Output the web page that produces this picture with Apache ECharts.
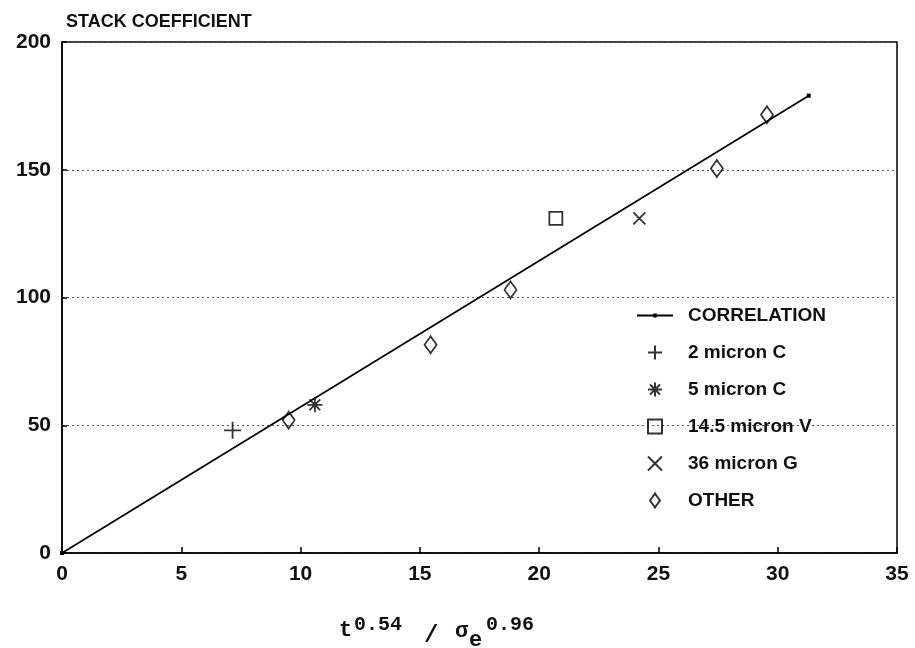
<!DOCTYPE html>
<html>
<head>
<meta charset="utf-8">
<script src="https://cdn.jsdelivr.net/npm/echarts@6/dist/echarts.min.js"></script>
<style>html,body{margin:0;padding:0;background:#fff}#c{width:915px;height:648px}</style>
</head>
<body>
<div id="c"></div>
<script>
var xTicks = [0, 5, 10, 15, 20, 25, 30, 35];
var yTicks = [0, 50, 100, 150, 200];
var correlation = [[0, 0], [31.3, 179]];
var micron2C = [[7.15, 48]];
var micron5C = [[10.6, 58]];
var micron14V = [[20.7, 131]];
var micron36G = [[24.2, 131]];
var other = [[9.5, 52], [15.45, 81.5], [18.8, 103], [27.45, 150.5], [29.55, 171.5]];
var seriesNames = ['CORRELATION', '2 micron C', '5 micron C', '14.5 micron V', '36 micron G', 'OTHER'];

var SYM_PLUS = 'path://M0,8L16,8M8,0L8,16';
var SYM_STAR = 'path://M7,0L7,14M0,7L14,7M2,2L12,12M12,2L2,12';
var SYM_SQ = 'path://M0,0L12,0L12,12L0,12Z';
var SYM_X = 'path://M0,0L12,12M12,0L0,12';
var SYM_DIA = 'path://M6,0C7.5,2.5 10.5,6 12,8.5C10.5,11 7.5,14.5 6,17C4.5,14.5 1.5,11 0,8.5C1.5,6 4.5,2.5 6,0Z';
var ICON_CORR = 'path://M0,6.1L36,6.1L36,7.9L0,7.9Z M16.3,5L19.7,5L19.7,9L16.3,9Z';

var chart = echarts.init(document.getElementById('c'), null, {renderer: 'canvas'});
var font = 'Liberation Sans, Arial, sans-serif';
var mono = 'Liberation Mono, DejaVu Sans Mono, monospace';
function sc(name, data, sym, size) {
  return {
    name: name, type: 'scatter', data: data, symbol: sym, symbolSize: size,
    itemStyle: {color: 'rgba(0,0,0,0)', borderColor: '#000', borderWidth: 1.8},
    z: 5
  };
}
function lbl(txt, x, y, size) {
  return {
    type: 'text', x: x, y: y,
    style: {text: txt, fontFamily: mono, fontSize: size, fontWeight: 'bold', fill: '#111',
      verticalAlign: 'middle', align: 'left'}
  };
}
var legendData = seriesNames.map(function (n, i) {
  return i === 0 ? {name: n, icon: ICON_CORR, itemStyle: {color: '#000'}} : {name: n};
});
chart.setOption({
  animation: false,
  backgroundColor: '#fff',
  grid: {left: 62, right: 18, top: 42, bottom: 95, show: true, borderColor: '#000', borderWidth: 1.5},
  title: {
    text: 'STACK COEFFICIENT', left: 61, top: 8,
    textStyle: {fontFamily: font, fontSize: 18, fontWeight: 'bold', color: '#111'}
  },
  legend: {
    orient: 'vertical', left: 632, top: 301,
    itemWidth: 36, itemHeight: 14, itemGap: 18,
    data: legendData,
    textStyle: {fontFamily: font, fontSize: 19, fontWeight: 'bold', color: '#111', padding: [0, 0, 0, 10]}
  },
  xAxis: {
    type: 'value', min: 0, max: 35, interval: 5,
    axisLine: {show: true, lineStyle: {color: '#000', width: 1.5}},
    axisTick: {show: true, inside: true, length: 6, lineStyle: {color: '#000', width: 1.5}},
    axisLabel: {fontFamily: font, fontSize: 21, fontWeight: 'bold', color: '#111', margin: 11,
      formatter: function (v) { return xTicks.indexOf(v) >= 0 ? String(v) : ''; }},
    splitLine: {show: false}
  },
  yAxis: {
    type: 'value', min: 0, max: 200, interval: 50,
    axisLine: {show: true, lineStyle: {color: '#000', width: 1.5}},
    axisTick: {show: true, inside: true, length: 5, lineStyle: {color: '#000', width: 1.5}},
    axisLabel: {fontFamily: font, fontSize: 21, fontWeight: 'bold', color: '#111', margin: 11,
      formatter: function (v) { return yTicks.indexOf(v) >= 0 ? String(v) : ''; }},
    splitLine: {show: true, lineStyle: {color: '#555', type: [2, 3], width: 1}}
  },
  graphic: [
    lbl('t', 339, 630, 22),
    lbl('0.54', 354, 625, 20),
    lbl('/', 424, 636, 24),
    lbl('σ', 455, 631, 22),
    lbl('e', 469, 640, 22),
    lbl('0.96', 486, 625, 20)
  ],
  series: [
    {
      name: 'CORRELATION', type: 'line', data: correlation,
      symbol: 'rect', symbolSize: 4, showSymbol: true,
      lineStyle: {color: '#000', width: 1.7},
      itemStyle: {color: '#000'}, z: 4
    },
    sc('2 micron C', micron2C, SYM_PLUS, 17),
    sc('5 micron C', micron5C, SYM_STAR, 15),
    sc('14.5 micron V', micron14V, SYM_SQ, 13),
    sc('36 micron G', micron36G, SYM_X, 12),
    sc('OTHER', other, SYM_DIA, [12, 17])
  ]
});
</script>
</body>
</html>
